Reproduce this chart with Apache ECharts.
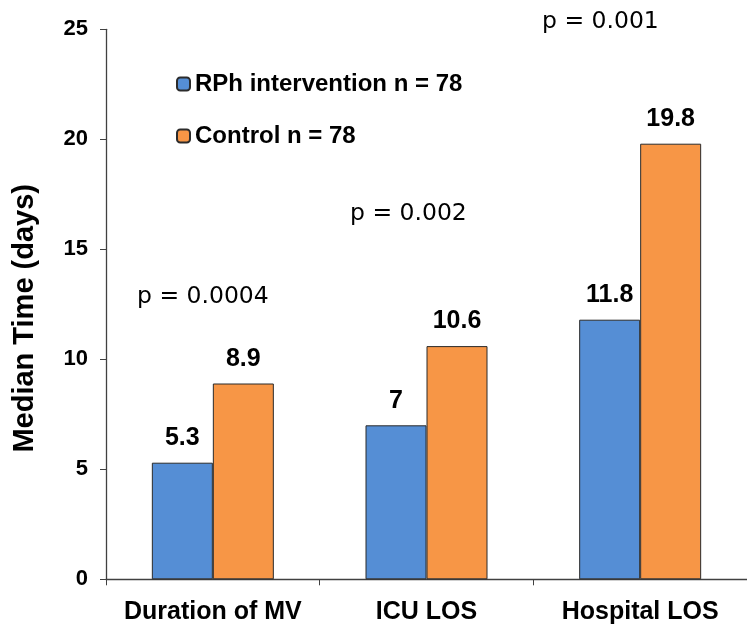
<!DOCTYPE html>
<html>
<head>
<meta charset="utf-8">
<script src="https://cdn.jsdelivr.net/npm/echarts@6/dist/echarts.min.js"></script>
<style>html,body{margin:0;padding:0;background:#fff}#c{width:747px;height:625px}</style>
</head>
<body>
<div id="c"></div>
<script>
const categories = ['Duration of MV', 'ICU LOS', 'Hospital LOS'];
const rphValues = [5.3, 7, 11.8];
const controlValues = [8.9, 10.6, 19.8];
const seriesNames = ['RPh intervention n = 78', 'Control n = 78'];
const pValues = ['p = 0.0004', 'p = 0.002', 'p = 0.001'];
const yTicks = [0, 5, 10, 15, 20, 25];

const chart = echarts.init(document.getElementById('c'));
const labelStyle = {show: true, position: 'top', distance: 12, fontFamily: 'Liberation Sans, Arial', fontWeight: 'bold', fontSize: 25, color: '#000'};
const pStyle = {fontFamily: 'DejaVu Sans', fontSize: 23.5, fill: '#000', verticalAlign: 'middle'};
chart.setOption({
  animation: false,
  grid: {left: 106, right: -2, top: 29.3, bottom: 45.7, containLabel: false},
  legend: {
    orient: 'vertical', left: 171, top: 67, itemGap: 28, itemWidth: 13, itemHeight: 13,
    textStyle: {fontFamily: 'Liberation Sans, Arial', fontWeight: 'bold', fontSize: 24, color: '#000'},
    data: seriesNames
  },
  xAxis: {
    type: 'category', data: categories,
    axisLine: {lineStyle: {color: '#404040', width: 1.3}},
    axisTick: {show: true, length: 6, lineStyle: {color: '#404040'}},
    axisLabel: {interval: 0, margin: 20, fontFamily: 'Liberation Sans, Arial', fontWeight: 'bold', fontSize: 25, color: '#000'}
  },
  yAxis: {
    type: 'value', min: yTicks[0], max: yTicks[yTicks.length - 1], interval: 5,
    name: 'Median Time (days)', nameLocation: 'middle', nameGap: 67,
    nameTextStyle: {fontFamily: 'Liberation Sans, Arial', fontWeight: 'bold', fontSize: 29, color: '#000', padding: [0, 28, 0, 0]},
    axisLine: {show: true, lineStyle: {color: '#404040', width: 1.3}},
    axisTick: {show: true, length: 6, lineStyle: {color: '#404040'}},
    splitLine: {show: false},
    axisLabel: {margin: 18, fontFamily: 'Liberation Sans, Arial', fontWeight: 'bold', fontSize: 22, color: '#000'}
  },
  series: [
    {name: seriesNames[0], type: 'bar', data: rphValues, barWidth: 61, barGap: '0%',
     itemStyle: {color: '#558ED5', borderColor: '#2b2b2b', borderWidth: 1}, label: labelStyle},
    {name: seriesNames[1], type: 'bar', data: controlValues, barWidth: 61, barGap: '0%',
     itemStyle: {color: '#F79646', borderColor: '#2b2b2b', borderWidth: 1}, label: labelStyle}
  ],
  graphic: [
    {type: 'text', x: 137, y: 297, style: Object.assign({text: pValues[0]}, pStyle)},
    {type: 'text', x: 350, y: 214, style: Object.assign({text: pValues[1]}, pStyle)},
    {type: 'text', x: 542, y: 22, style: Object.assign({text: pValues[2]}, pStyle)}
  ]
});
</script>
</body>
</html>
